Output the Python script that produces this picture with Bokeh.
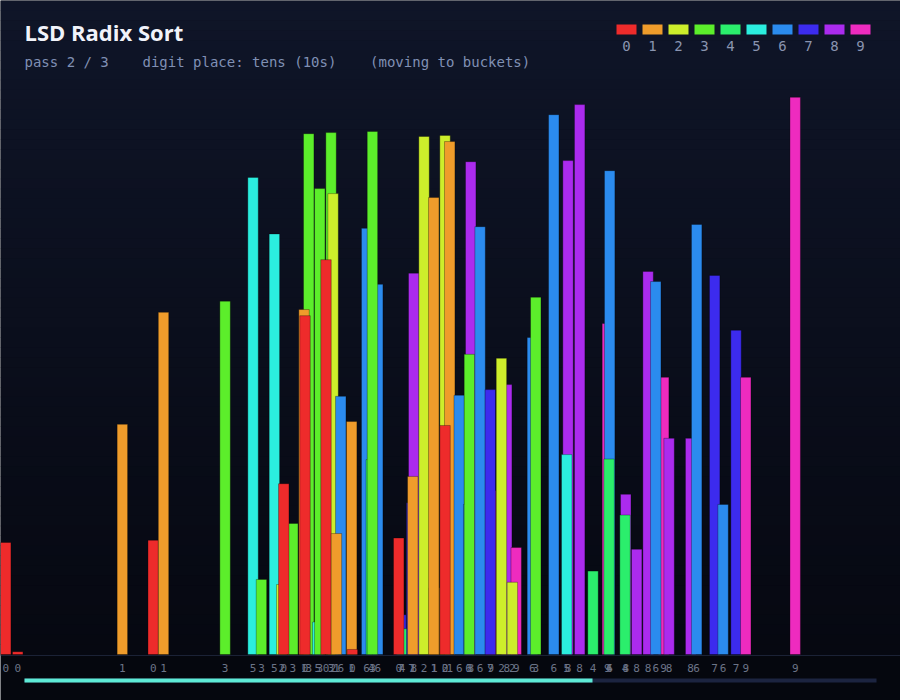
from bokeh.plotting import figure
from bokeh.models import ColumnDataSource, Range1d
from bokeh.core.properties import value
from bokeh.embed import file_html
from bokeh.resources import INLINE

# ---------------------------------------------------------------- data
TITLE = "LSD Radix Sort"
SUBTITLE = "pass 2 / 3    digit place: tens (10s)    (moving to buckets)"
PLACE = 10                 # current digit place (tens)
PROGRESS = 2 / 3           # overall sort progress
N_SLOTS = 75
DIGITS = ["0", "1", "2", "3", "4", "5", "6", "7", "8", "9"]
PALETTE = ["#ee2b2b", "#ef9c2b", "#cdee2b", "#5cee2b", "#2bee6c",
           "#2beedf", "#2b8bee", "#3c2bee", "#ab2bee", "#ee2bbf"]

# current (animated) slot position of every element, in draw order
positions = [0.00, 1.00, 9.72, 12.29, 13.15, 18.28, 20.61, 21.31, 22.39, 23.00,
             23.92, 23.17, 25.25, 24.86, 24.94, 26.00, 26.17, 27.11, 27.28, 26.69,
             27.92, 27.56, 28.83, 28.89, 30.08, 30.46, 31.00, 30.56, 32.92, 33.03,
             32.75, 34.00, 33.83, 33.92, 34.86, 35.72, 35.67, 36.61, 37.00, 36.61,
             37.79, 38.58, 38.75, 38.64, 39.53, 40.42, 40.38, 41.75, 41.31, 42.54,
             42.22, 43.89, 44.17, 45.67, 46.86, 46.75, 47.83, 48.94, 50.14, 50.33,
             50.28, 51.67, 51.61, 52.58, 53.53, 54.83, 54.17, 55.28, 57.08, 57.58,
             59.08, 59.78, 60.86, 61.67, 65.79]

# element values (0..999)
values = [200, 5, 411, 204, 611, 631, 852, 134, 751, 125,
          234, 305, 930, 616, 605, 58, 832, 932, 823, 705,
          461, 216, 416, 9, 761, 348, 661, 934, 71, 46,
          208, 681, 271, 318, 925, 119, 816, 927, 916, 409,
          463, 268, 880, 536, 764, 293, 473, 482, 529, 191,
          129, 566, 638, 964, 882, 357, 982, 149, 591, 864,
          349, 286, 249, 188, 684, 495, 666, 386, 386, 768,
          677, 268, 579, 495, 995]

# ---------------------------------------------------------------- layout
W, H = 900, 700
BASE_PX = 654              # baseline, pixels from top
UNITS_PER_PX = 1000 / 560  # value units per pixel
SLOT_PX = W / N_SLOTS
BAR_W = 0.87               # bar width in slots


def xd(px):
    return px / SLOT_PX


def yd(py):
    return (BASE_PX - py) * UNITS_PER_PX


def keep_spaces(s):
    # SVG collapses runs of spaces; non-breaking spaces keep the monospace gaps
    return s.replace(" ", "\u00a0")


p = figure(width=W, height=H, output_backend="svg", toolbar_location=None,
           x_range=Range1d(0, N_SLOTS), y_range=Range1d(yd(H), yd(0)),
           x_axis_type=None, y_axis_type=None, min_border=0)
p.grid.visible = False
p.outline_line_color = None
p.background_fill_color = "#05070e"
p.border_fill_color = "#05070e"

# vertical background gradient
top_rgb, bot_rgb = (15, 21, 40), (6, 8, 17)
n_strips = 66
g_top, g_bot, g_col = [], [], []
for i in range(n_strips):
    t = i / (n_strips - 1)
    r, g, b = (round(a + (c - a) * t) for a, c in zip(top_rgb, bot_rgb))
    y0 = BASE_PX * i / n_strips
    y1 = BASE_PX * (i + 1) / n_strips
    g_top.append(yd(y0))
    g_bot.append(yd(y1 + 0.5))
    g_col.append(f"#{r:02x}{g:02x}{b:02x}")
p.quad(left=0, right=N_SLOTS, top=g_top, bottom=g_bot, fill_color=g_col,
       line_color=None)

# baseline
p.segment(x0=[0], x1=[N_SLOTS], y0=[yd(655)], y1=[yd(655)],
          line_color="#1b2236", line_width=1.2)

# ---------------------------------------------------------------- bars
digit = [(v // PLACE) % 10 for v in values]
src = ColumnDataSource(dict(
    left=positions,
    right=[x + BAR_W for x in positions],
    mid=[x + BAR_W / 2 for x in positions],
    value=values,
    color=[PALETTE[d] for d in digit],
    label=[DIGITS[d] for d in digit],
))
p.quad(left="left", right="right", bottom=0, top="value", fill_color="color",
       line_color="#000000", line_alpha=0.3, line_width=1, source=src)

p.text(x="mid", y=yd(667), text="label", source=src,
       text_font=value("DejaVu Sans Mono"), text_font_size="11px",
       text_color="#6c7487", text_align="center", text_baseline="middle")

# ---------------------------------------------------------------- header
p.text(x=[xd(24)], y=[yd(31)], text=[TITLE], text_font=value("Open Sans"),
       text_font_style="bold", text_font_size="22px", text_color="#f1f3fa",
       text_baseline="middle")
p.text(x=[xd(24)], y=[yd(61)], text=[keep_spaces(SUBTITLE)],
       text_font=value("DejaVu Sans Mono"), text_font_size="14px",
       text_color="#8090b4", text_baseline="middle")

# digit legend
leg_x = [616 + 26 * i for i in range(10)]
p.quad(left=[xd(x) for x in leg_x], right=[xd(x + 20) for x in leg_x],
       top=yd(24), bottom=yd(34), fill_color=PALETTE, line_color=None)
p.text(x=[xd(x + 10) for x in leg_x], y=yd(45), text=DIGITS,
       text_font=value("DejaVu Sans Mono"), text_font_size="14px",
       text_color="#8a94b0", text_align="center", text_baseline="middle")

# progress bar
p.quad(left=[xd(24)], right=[xd(876)], top=yd(678), bottom=yd(682),
       fill_color="#1c2440", line_color=None)
p.quad(left=[xd(24)], right=[xd(24 + 852 * PROGRESS)], top=yd(678),
       bottom=yd(682), fill_color="#5eead6", line_color=None)

open("out.html", "w").write(file_html(p, INLINE))
